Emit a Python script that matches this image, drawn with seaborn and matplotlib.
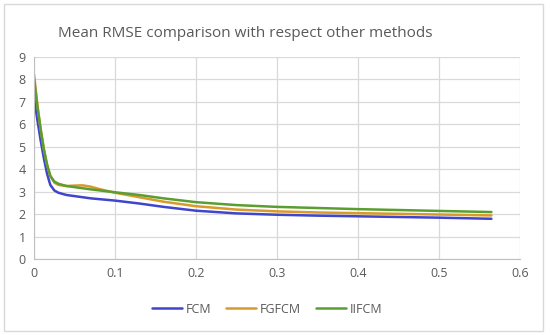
import numpy as np
import pandas as pd
import seaborn as sns
import matplotlib.pyplot as plt
from matplotlib.patches import Rectangle

# values
x_fcm = [0, 0.004, 0.008, 0.012, 0.016, 0.02, 0.025, 0.03, 0.04, 0.05, 0.07, 0.1, 0.13, 0.16, 0.2, 0.25, 0.3, 0.35, 0.4, 0.45, 0.5, 0.565]
y_fcm = [7.2, 6.2, 5.3, 4.5, 3.8, 3.3, 3.05, 2.95, 2.85, 2.8, 2.7, 2.6, 2.47, 2.32, 2.15, 2.03, 1.97, 1.93, 1.9, 1.87, 1.84, 1.79]

x_fgfcm = [0, 0.004, 0.008, 0.012, 0.016, 0.02, 0.025, 0.03, 0.04, 0.05, 0.06, 0.07, 0.08, 0.1, 0.13, 0.16, 0.2, 0.25, 0.3, 0.35, 0.4, 0.45, 0.5, 0.565]
y_fgfcm = [8.2, 6.9, 5.8, 4.9, 4.2, 3.7, 3.4, 3.3, 3.25, 3.27, 3.28, 3.22, 3.12, 2.95, 2.75, 2.55, 2.35, 2.2, 2.12, 2.07, 2.04, 2.01, 1.98, 1.94]

x_iifcm = [0, 0.004, 0.008, 0.012, 0.016, 0.02, 0.025, 0.03, 0.04, 0.05, 0.07, 0.1, 0.13, 0.16, 0.2, 0.25, 0.3, 0.35, 0.4, 0.45, 0.5, 0.565]
y_iifcm = [8.0, 6.8, 5.8, 4.9, 4.2, 3.7, 3.45, 3.35, 3.25, 3.2, 3.1, 2.97, 2.85, 2.7, 2.53, 2.4, 2.32, 2.27, 2.22, 2.18, 2.14, 2.09]

frames = []
for name, xs, ys in [('FCM', x_fcm, y_fcm), ('FGFCM', x_fgfcm, y_fgfcm), ('IIFCM', x_iifcm, y_iifcm)]:
    frames.append(pd.DataFrame({'x': xs, 'y': ys, 'method': name}))
df = pd.concat(frames)

sns.set_style('white')
plt.rcParams['font.family'] = ['Open Sans', 'DejaVu Sans']

fig = plt.figure(figsize=(5.5, 3.35), dpi=100)
ax = fig.add_axes([0.062, 0.227, 0.883, 0.603])
palette = {'FCM': '#3f45cc', 'FGFCM': '#d89a2a', 'IIFCM': '#5a9e32'}
sns.lineplot(data=df, x='x', y='y', hue='method', palette=palette, linewidth=1.8, ax=ax, sort=False)

ax.set_xlim(0, 0.6)
ax.set_ylim(0, 9)
ax.set_xticks(np.arange(0, 0.61, 0.1))
ax.set_xticklabels(['0', '0.1', '0.2', '0.3', '0.4', '0.5', '0.6'])
ax.set_yticks(range(0, 10))
ax.grid(True, color='#d9d9d9', linewidth=0.9)
ax.tick_params(colors='#595959', labelsize=9, length=0, pad=6)
for s in ['top', 'right']:
    ax.spines[s].set_visible(False)
for s in ['left', 'bottom']:
    ax.spines[s].set_color('#bfbfbf')
ax.set_xlabel('')
ax.set_ylabel('')

ax.legend(loc='upper center', bbox_to_anchor=(0.48, -0.16), ncol=3, frameon=False,
          fontsize=9, handlelength=2.4, handletextpad=0.3, columnspacing=1.2, labelcolor='#595959')

fig.text(0.445, 0.9, 'Mean RMSE comparison with respect other methods', ha='center', va='center',
         fontsize=11, color='#595959')
fig.patches.append(Rectangle((0.008, 0.012), 0.98, 0.975, transform=fig.transFigure,
                             fill=False, edgecolor='#d9d9d9', linewidth=1))

fig.savefig('out.png', dpi=100)
